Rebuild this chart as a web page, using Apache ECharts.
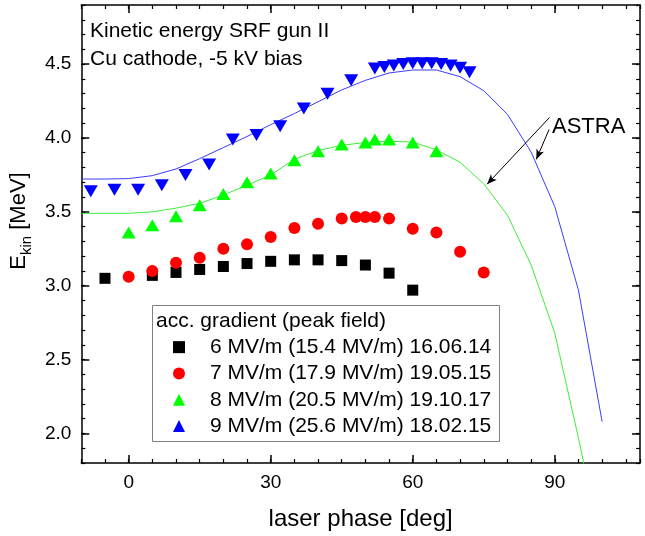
<!DOCTYPE html>
<html>
<head>
<meta charset="utf-8">
<script src="https://cdn.jsdelivr.net/npm/echarts@6/dist/echarts.min.js"></script>
<style>
  html, body { margin: 0; padding: 0; background: #fff; }
  #chart { width: 645px; height: 536px; }
</style>
</head>
<body>
<div id="chart"></div>
<script>
// Measured kinetic energy vs. laser phase, SRF gun II, Cu cathode
const phase6 = [-5, 5, 10, 15, 20, 25, 30, 35, 40, 45, 50, 55, 60];
const ekin6  = [3.05, 3.07, 3.09, 3.11, 3.13, 3.15, 3.165, 3.175, 3.175, 3.17, 3.14, 3.085, 2.97];

const phase7 = [0, 5, 10, 15, 20, 25, 30, 35, 40, 45, 48, 50, 52, 55, 60, 65, 70, 75];
const ekin7  = [3.06, 3.10, 3.155, 3.19, 3.25, 3.28, 3.33, 3.39, 3.42, 3.455, 3.465, 3.465, 3.465, 3.455, 3.385, 3.36, 3.23, 3.09];

const phase8 = [0, 5, 10, 15, 20, 25, 30, 35, 40, 45, 50, 52, 55, 60, 65];
const ekin8  = [3.36, 3.41, 3.47, 3.545, 3.62, 3.70, 3.76, 3.85, 3.91, 3.955, 3.97, 3.99, 3.99, 3.97, 3.91];

const phase9 = [-8, -3, 2, 7, 12, 17, 22, 27, 32, 37, 42, 47, 52, 54, 56, 58, 60, 62, 64, 66, 68, 70, 72];
const ekin9  = [3.64, 3.65, 3.65, 3.68, 3.75, 3.82, 3.99, 4.02, 4.08, 4.20, 4.30, 4.39, 4.47, 4.48, 4.49, 4.50, 4.505, 4.505, 4.505, 4.50, 4.49, 4.475, 4.445];

// ASTRA simulation (5 deg steps)
const phaseSim = [-10, -5, 0, 5, 10, 15, 20, 25, 30, 35, 40, 45, 50, 55, 60, 65, 70, 75, 80, 85, 90, 95, 100];
const ekinSim9 = [3.722, 3.722, 3.725, 3.745, 3.79, 3.86, 3.935, 4.01, 4.09, 4.165, 4.245, 4.325, 4.39, 4.44, 4.46, 4.46, 4.415, 4.32, 4.16, 3.905, 3.535, 2.97, 2.08];
const ekinSim8 = [3.49, 3.49, 3.49, 3.50, 3.525, 3.557, 3.614, 3.68, 3.75, 3.855, 3.915, 3.95, 3.97, 3.978, 3.972, 3.92, 3.835, 3.69, 3.478, 3.141, 2.679, 1.97, 1.2];

const seriesNames = [
  '6 MV/m (15.4 MV/m) 16.06.14',
  '7 MV/m (17.9 MV/m) 19.05.15',
  '8 MV/m (20.5 MV/m) 19.10.17',
  '9 MV/m (25.6 MV/m) 18.02.15'
];
const xMajorTicks = [0, 30, 60, 90];
const yMajorTicks = [2.0, 2.5, 3.0, 3.5, 4.0, 4.5];
const xRange = [-10, 108];
const yRange = [1.8, 4.9];

const FONT = '"Liberation Sans", Arial, Helvetica, sans-serif';
const pairs = (xs, ys) => xs.map((x, i) => [x, ys[i]]);

function axisBase(min, max) {
  return {
    type: 'value', min: min, max: max,
    splitLine: { show: false },
    axisLine: { show: false, onZero: false },
    axisLabel: { show: false },
    axisTick: { show: false }
  };
}
// minor ticks + frame line
function minorAxis(pos, range, step, withLabels, isY) {
  const a = axisBase(range[0], range[1]);
  a.position = pos;
  a.interval = step;
  a.axisLine = { show: true, onZero: false, lineStyle: { color: '#000', width: 1.5 } };
  a.axisTick = { show: true, inside: true, length: 4, lineStyle: { color: '#000', width: 1.2 } };
  if (withLabels) {
    a.axisLabel = {
      show: true, interval: 0, color: '#000', fontSize: 19, fontFamily: FONT, margin: 10,
      showMinLabel: true, showMaxLabel: true, hideOverlap: false,
      formatter: isY
        ? (v) => (Math.abs(v * 2 - Math.round(v * 2)) < 1e-6 ? v.toFixed(1) : '')
        : (v) => (Math.abs(v % 30) < 1e-6 ? String(Math.round(v)) : '')
    };
  }
  return a;
}
// longer ticks at labelled values
function majorAxis(pos, range, values) {
  const a = axisBase(range[0], range[1]);
  a.position = pos;
  a.axisTick = { show: true, inside: true, length: 8, customValues: values, lineStyle: { color: '#000', width: 1.5 } };
  a.axisLabel = { show: false, customValues: values };
  return a;
}

const xAxes = [
  minorAxis('bottom', xRange, 5, true, false),
  majorAxis('bottom', xRange, xMajorTicks),
  minorAxis('top', xRange, 5, false, false),
  majorAxis('top', xRange, xMajorTicks)
];
xAxes[0].name = 'laser phase [deg]';
xAxes[0].nameLocation = 'middle';
xAxes[0].nameGap = 44;
xAxes[0].nameTextStyle = { fontSize: 24, color: '#000', fontFamily: FONT };

const yAxes = [
  minorAxis('left', yRange, 0.1, true, true),
  majorAxis('left', yRange, yMajorTicks),
  minorAxis('right', yRange, 0.1, false, true),
  majorAxis('right', yRange, yMajorTicks)
];
yAxes[0].name = '{a|E}{b|kin}{a| [MeV]}';
yAxes[0].nameLocation = 'middle';
yAxes[0].nameGap = 38;
yAxes[0].nameTextStyle = {
  color: '#000', fontFamily: FONT, padding: [0, 0, 0, 26],
  rich: {
    a: { fontSize: 22, lineHeight: 30, fontFamily: FONT, color: '#000' },
    b: { fontSize: 15, lineHeight: 15, verticalAlign: 'bottom', fontFamily: FONT, color: '#000' }
  }
};

const option = {
  animation: false,
  backgroundColor: '#fff',
  grid: { left: 78, right: 5, top: 5, bottom: 71, containLabel: false },
  xAxis: xAxes,
  yAxis: yAxes,
  legend: {
    data: seriesNames,
    orient: 'vertical',
    left: 173, top: 334,
    padding: 0,
    itemWidth: 12, itemHeight: 12,
    itemGap: 0,
    selectedMode: false,
    textStyle: { fontSize: 21, lineHeight: 26.3, color: '#000', fontFamily: FONT, padding: [0, 0, 0, 20] }
  },
  graphic: [
    { type: 'rect', z: 1, shape: { x: 152.5, y: 305.5, width: 347, height: 136 },
      style: { fill: '#fff', stroke: '#808080', lineWidth: 1 } },
    { type: 'text', z: 5, x: 156, y: 321,
      style: { text: 'acc. gradient (peak field)', font: '21px ' + FONT, fill: '#000', verticalAlign: 'middle' } },
    { type: 'text', z: 5, x: 90, y: 31,
      style: { text: 'Kinetic energy SRF gun II', font: '21px ' + FONT, fill: '#000', verticalAlign: 'middle' } },
    { type: 'text', z: 5, x: 90, y: 59,
      style: { text: 'Cu cathode, -5 kV bias', font: '21px ' + FONT, fill: '#000', verticalAlign: 'middle' } },
    { type: 'text', z: 5, x: 552, y: 127,
      style: { text: 'ASTRA', font: '22px ' + FONT, fill: '#000', verticalAlign: 'middle' } }
  ],
  series: [
    {
      name: 'ASTRA 9', type: 'line', data: pairs(phaseSim, ekinSim9),
      symbol: 'none', clip: true, z: 1,
      lineStyle: { color: '#3c3cff', width: 1 },
      markLine: {
        silent: true, symbol: ['none', 'arrow'], symbolSize: [6, 10],
        label: { show: false },
        lineStyle: { color: '#000', width: 1, type: 'solid' },
        data: [
          [{ coord: [88.9, 4.139] }, { coord: [75.7, 3.687] }],
          [{ coord: [88.8, 4.058] }, { coord: [86.1, 3.855] }]
        ]
      }
    },
    {
      name: 'ASTRA 8', type: 'line', data: pairs(phaseSim, ekinSim8),
      symbol: 'none', clip: true, z: 1,
      lineStyle: { color: '#3cee3c', width: 1 }
    },
    {
      name: seriesNames[0], type: 'scatter', data: pairs(phase6, ekin6),
      symbol: 'rect', symbolSize: 11, itemStyle: { color: '#000000', opacity: 1 }, z: 3
    },
    {
      name: seriesNames[1], type: 'scatter', data: pairs(phase7, ekin7),
      symbol: 'circle', symbolSize: 12, itemStyle: { color: '#ff0000', opacity: 1 }, z: 3
    },
    {
      name: seriesNames[2], type: 'scatter', data: pairs(phase8, ekin8),
      symbol: 'triangle', symbolSize: [14, 12], itemStyle: { color: '#00ff00', opacity: 1 }, z: 3
    },
    {
      name: seriesNames[3], type: 'scatter', data: pairs(phase9, ekin9),
      symbol: 'triangle', symbolRotate: 180, symbolSize: [14, 12], itemStyle: { color: '#0000ff', opacity: 1 }, z: 3
    }
  ]
};

const chart = echarts.init(document.getElementById('chart'), null, { renderer: 'canvas' });
chart.setOption(option);
</script>
</body>
</html>
